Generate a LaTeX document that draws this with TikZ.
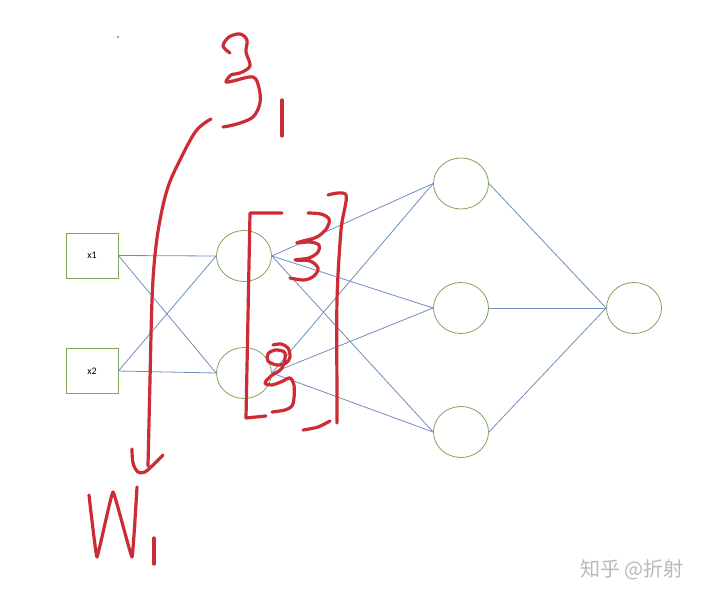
\documentclass[tikz,border=0pt]{standalone}
\usepackage{fontspec}
\setmainfont{Carlito}
\newfontfamily\cjk{Noto Sans CJK SC}
\usetikzlibrary{shapes.geometric}
\definecolor{netblue}{RGB}{112,142,192}
\definecolor{netgreen}{RGB}{128,164,92}
\definecolor{inkred}{RGB}{204,44,54}
\definecolor{wmgray}{RGB}{185,185,185}
\tikzset{
  inbox/.style={draw=netgreen, line width=0.8pt, minimum width=52pt, minimum height=45pt, inner sep=0pt, font=\fontsize{10}{11}\selectfont},
  neuron/.style={draw=netgreen, line width=0.8pt, ellipse, minimum width=55pt, minimum height=51pt, inner sep=0pt},
  link/.style={draw=netblue, line width=0.8pt},
  ink/.style={draw=inkred, line width=3.2pt, line cap=round, line join=round},
}
\begin{document}
\begin{tikzpicture}[x=1pt,y=-1pt]
\useasboundingbox (0,0) rectangle (703,599);
\fill[white] (0,0) rectangle (703,599);
% nodes
\node[inbox] (x1) at (92,255.5) {x1};
\node[inbox] (x2) at (92,371) {x2};
\node[neuron] (h1) at (244,256) {};
\node[neuron] (h2) at (244,373) {};
\node[neuron] (g1) at (461,183.5) {};
\node[neuron] (g2) at (461,308) {};
\node[neuron] (g3) at (461,432) {};
\node[neuron] (o) at (634,308) {};
% connectors
\foreach \a in {x1,x2} \foreach \b in {h1,h2} \draw[link] (\a.east) -- (\b.west);
\foreach \a in {h1,h2} \foreach \b in {g1,g2,g3} \draw[link] (\a.east) -- (\b.west);
\foreach \a in {g1,g2,g3} \draw[link] (\a.east) -- (o.west);
% handwriting: z at top
\draw[ink] plot[smooth, tension=0.55] coordinates {(230,53) (223,46) (229,37) (240,34) (247,40) (246,52) (250,66) (240,73) (231,75) (226,82) (233,81) (253,77) (259,88) (260,103) (253,117) (237,124) (223,127)};
\draw[ink] (282,100) -- (282,136);
% arrow
\draw[ink] plot[smooth, tension=0.6] coordinates {(211,119) (196,131) (180,160) (168,187) (160,220) (155,255) (152,300) (150,380) (148,466)};
\draw[ink] plot[smooth, tension=0.6] coordinates {(132,449) (133,463) (138,472) (145,472) (152,466) (163,455)};
% W_1
\draw[ink] plot[smooth, tension=0.15] coordinates {(89,495) (97,557) (113,492) (132,557) (137,487)};
\draw[ink] (154,538) -- (154,564);
% brackets
\draw[ink] (282,213) -- (250,213) -- (246,418) -- (266,416);
\draw[ink] plot[smooth, tension=0.5] coordinates {(328,195) (346,195) (341,230) (337,300) (337,400) (337,423)};
\draw[ink] plot[smooth, tension=0.5] coordinates {(303,430) (318,427) (330,421)};
% upper 3
\draw[ink] plot[smooth, tension=0.55] coordinates {(308,213) (321,214) (329,219) (327,228) (317,237) (303,241) (297,243) (310,242) (319,245) (318,252) (309,258) (295,260) (310,261) (318,268) (314,276) (304,280) (290,278)};
% lower g
\draw[ink] plot[smooth, tension=0.55] coordinates {(273,345) (281,344) (288,348) (290,357) (286,363) (277,365) (268,361) (268,354) (275,350) (285,353) (282,368) (271,376) (265,383) (272,385) (283,381) (290,378) (294,385) (294,398) (292,406) (285,410) (272,412)};
% dot
\fill[inkred!70] (118,37) circle (1.1pt);
% watermark
\node[text=wmgray, font=\cjk\fontsize{20}{22}\selectfont, anchor=center, inner sep=0pt] (wm) at (632,570) {知乎 @折射};
\end{tikzpicture}
\end{document}
